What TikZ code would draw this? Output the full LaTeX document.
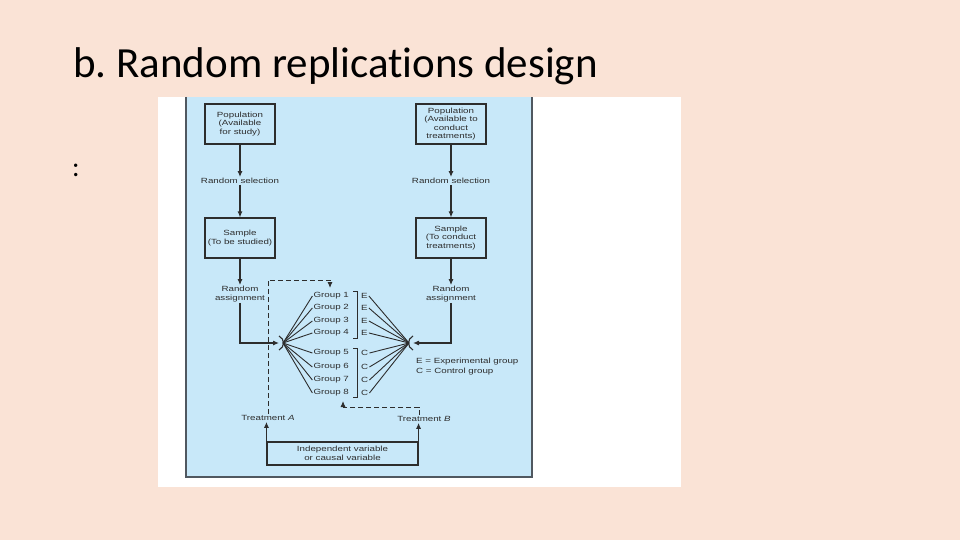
\documentclass[tikz,border=0pt]{standalone}
\usepackage{fontspec}
\setmainfont[Ligatures=NoCommon]{Carlito}
\newfontfamily\diagfont[FakeStretch=1.3]{Liberation Sans}
\usetikzlibrary{arrows.meta,positioning,calc}
\definecolor{slidebg}{RGB}{250,227,214}
\definecolor{panelblue}{RGB}{200,232,249}
\definecolor{inkgray}{RGB}{45,45,45}
\definecolor{framegray}{RGB}{80,88,96}

\begin{document}
\begin{tikzpicture}[
    x=1pt, y=-1pt,
    >={Latex[length=6pt,width=5pt]},
    diagtext/.style={font={\diagfont\fontsize{7.5}{8.4}\selectfont}, text=inkgray, align=center, inner sep=1pt},
    box/.style={diagtext, rectangle, draw=inkgray, line width=1.1pt, minimum width=70pt, minimum height=40pt},
    grouptag/.style={diagtext, anchor=east},
    condtag/.style={diagtext, anchor=west},
    connection/.style={line width=1.1pt, draw=inkgray},
    fanline/.style={line width=0.9pt, draw=inkgray},
    dashconn/.style={line width=0.9pt, draw=inkgray, dash pattern=on 5pt off 3pt}
]

% Slide background and figure panel
\useasboundingbox (0,0) rectangle (960,540);
\fill[slidebg] (0,0) rectangle (960,540);
\fill[white] (158,97) rectangle (681,487);
\fill[panelblue] (186,97) rectangle (532,477);
\draw[framegray, line width=1.5pt] (186,97) -- (186,477) -- (532,477) -- (532,97);

% Title
\node[anchor=base west, inner sep=0, font=\fontsize{43}{50}\selectfont] (title) at (73,78) {b.\ Random replications design};
\node[anchor=base west, inner sep=0, font=\fontsize{28}{32}\selectfont] (colon) at (72,177) {:};

% Left column (study population)
\node[box] (pop1) at (240,124) {Population\\(Available\\for study)};
\node[diagtext] (sel1) at (240,181) {Random selection};
\node[box] (samp1) at (240,238) {Sample\\(To be studied)};
\node[diagtext] (asg1) at (240,294) {Random\\assignment};

% Right column (treatment population)
\node[box] (pop2) at (451,124) {Population\\(Available to\\conduct\\treatments)};
\node[diagtext] (sel2) at (451,181) {Random selection};
\node[box] (samp2) at (451,238) {Sample\\(To conduct\\treatments)};
\node[diagtext] (asg2) at (451,294) {Random\\assignment};

% Groups
\node[grouptag] (g1) at (350,296) {Group 1};
\node[grouptag] (g2) at (350,308) {Group 2};
\node[grouptag] (g3) at (350,321) {Group 3};
\node[grouptag] (g4) at (350,333) {Group 4};
\node[grouptag] (g5) at (350,353) {Group 5};
\node[grouptag] (g6) at (350,367) {Group 6};
\node[grouptag] (g7) at (350,380) {Group 7};
\node[grouptag] (g8) at (350,393) {Group 8};

\node[condtag] (c1) at (360,296) {E};
\node[condtag] (c2) at (360,308) {E};
\node[condtag] (c3) at (360,321) {E};
\node[condtag] (c4) at (360,333) {E};
\node[condtag] (c5) at (360,353) {C};
\node[condtag] (c6) at (360,367) {C};
\node[condtag] (c7) at (360,380) {C};
\node[condtag] (c8) at (360,393) {C};

\node[diagtext, align=left, anchor=west, font={\diagfont\fontsize{7.5}{10}\selectfont}] (legend) at (415,367) {E = Experimental group\\C = Control group};

% Treatments and independent variable
\node[diagtext] (treatA) at (268,418) {Treatment \textit{A}};
\node[diagtext] (treatB) at (424,419) {Treatment \textit{B}};
\node[diagtext, draw=inkgray, line width=1.1pt, minimum width=151pt, minimum height=23pt] (indep) at (342.5,453.5) {Independent variable\\or causal variable};

% Helper points
\coordinate (lfan) at (283,343);
\coordinate (rfan) at (409,343);
\coordinate (lfanin) at (279,343);
\coordinate (rfanin) at (413,343);
\coordinate (dashtop) at (330,280);
\coordinate (g1top) at (330,288);
\coordinate (bturn) at (419,407);
\coordinate (g8bot) at (343,401);

% Column connections
\draw[connection,->] (pop1) -- (sel1);
\draw[connection,->] (sel1) -- (samp1);
\draw[connection,->] (samp1) -- (asg1);
\draw[connection,->] (asg1.south) |- (lfanin);
\draw[connection,->] (pop2) -- (sel2);
\draw[connection,->] (sel2) -- (samp2);
\draw[connection,->] (samp2) -- (asg2);
\draw[connection,->] (asg2.south) |- (rfanin);

% Fans to the groups
\draw[connection] (279,336) .. controls (285,339) and (285,347) .. (279,350);
\draw[connection] (413,336) .. controls (407,339) and (407,347) .. (413,350);
\draw[fanline] (lfan) -- (g1.west);
\draw[fanline] (lfan) -- (g2.west);
\draw[fanline] (lfan) -- (g3.west);
\draw[fanline] (lfan) -- (g4.west);
\draw[fanline] (lfan) -- (g5.west);
\draw[fanline] (lfan) -- (g6.west);
\draw[fanline] (lfan) -- (g7.west);
\draw[fanline] (lfan) -- (g8.west);
\draw[fanline] (rfan) -- (c1.east);
\draw[fanline] (rfan) -- (c2.east);
\draw[fanline] (rfan) -- (c3.east);
\draw[fanline] (rfan) -- (c4.east);
\draw[fanline] (rfan) -- (c5.east);
\draw[fanline] (rfan) -- (c6.east);
\draw[fanline] (rfan) -- (c7.east);
\draw[fanline] (rfan) -- (c8.east);

% Brackets
\draw[fanline] (353,291) -- (357,291) -- (357,338) -- (353,338);
\draw[fanline] (353,348) -- (357,348) -- (357,397) -- (353,397);

% Treatment connections
\draw[connection,->] (indep.north west) -- (indep.north west |- treatA.south);
\draw[connection,->] (indep.north east) -- (indep.north east |- treatB.south);
\draw[dashconn,->] (treatA.north) |- (dashtop) -- (g1top);
\draw[dashconn,->] (treatB.north -| bturn) -- (bturn) -| (g8bot);

\end{tikzpicture}
\end{document}
